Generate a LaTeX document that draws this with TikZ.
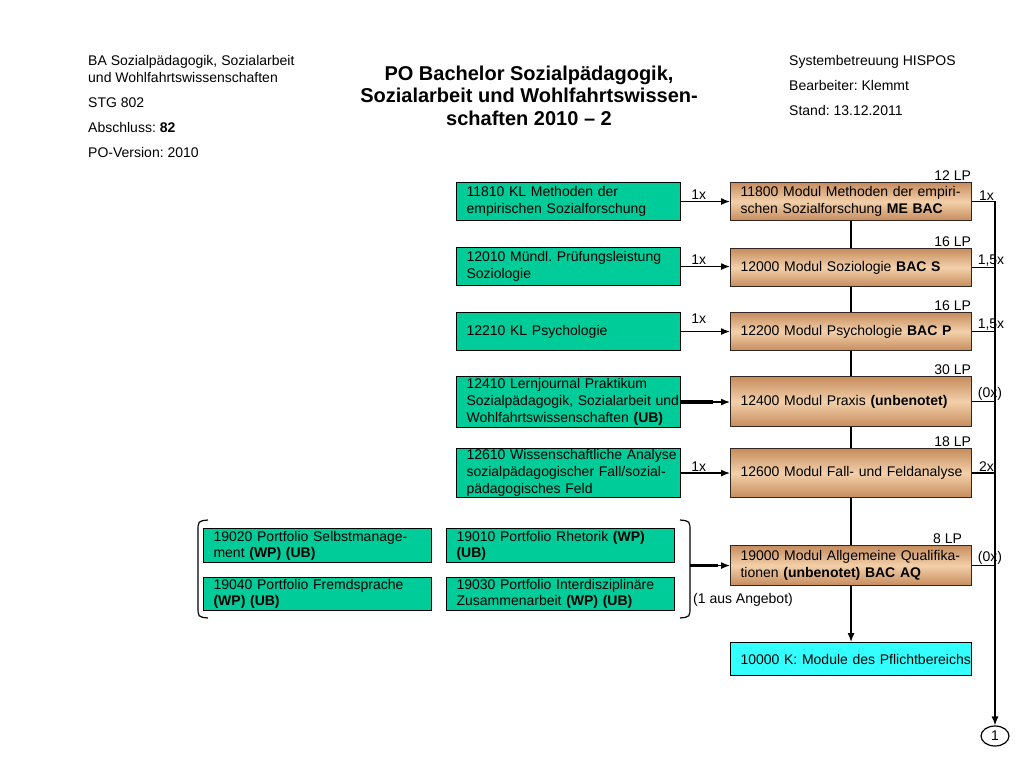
\documentclass[tikz,border=0pt]{standalone}
\usepackage{fontspec}
\setmainfont{Liberation Sans}
\usetikzlibrary{arrows.meta,shapes.geometric}
\definecolor{grn}{RGB}{0,204,153}
\definecolor{cyn}{RGB}{51,255,255}
\definecolor{tanD}{RGB}{198,140,94}
\definecolor{tanL}{RGB}{243,208,170}
\definecolor{brd}{RGB}{50,40,35}
\newcommand\bl[1]{\mbox{#1}}
\begin{document}
\begin{tikzpicture}[x=1pt,y=-1pt,
  txt/.style={font=\fontsize{14}{17}\selectfont\frenchspacing},
  lbl/.style={txt, inner sep=1pt},
  hdr/.style={txt, inner sep=0pt, anchor=base west},
  box/.style={txt, draw=black, line width=1.1pt, anchor=north west, align=left, inner xsep=10pt, inner ysep=0pt},
  gbox/.style={box, fill=grn, minimum width=224, text width=204pt},
  obox/.style={box, draw=brd, top color=tanD, bottom color=tanD, middle color=tanL, minimum width=241, text width=221pt},
  bbox/.style={box, fill=grn, font=\fontsize{14}{16}\selectfont\frenchspacing, text width=208pt},
  arr/.style={-{Latex[length=9pt,width=7pt]}, line width=1.2pt},
  ln/.style={line width=1.2pt},
  thick3/.style={line width=3.5pt}
]
\useasboundingbox (0,0) rectangle (1024,768);
\fill[white] (0,0) rectangle (1024,768);

% header
\node[hdr] (h1) at (88,65) {BA Sozialpädagogik, Sozialarbeit};
\node[hdr] (h2) at (88,82) {und Wohlfahrtswissenschaften};
\node[hdr] (h3) at (88,107) {STG 802};
\node[hdr] (h4) at (88,132) {Abschluss: \textbf{82}};
\node[hdr] (h5) at (88,157) {PO-Version: 2010};
\node[hdr] (r1) at (789,65) {Systembetreuung HISPOS};
\node[hdr] (r2) at (789,90) {Bearbeiter: Klemmt};
\node[hdr] (r3) at (789,115) {Stand: 13.12.2011};
\node[font=\fontsize{20}{22.5}\selectfont\bfseries, align=center, anchor=north, inner sep=0pt] (title) at (529,65.5)
  {PO Bachelor Sozialpädagogik,\\Sozialarbeit und Wohlfahrtswissen-\\schaften 2010 -- 2};

% green boxes
\node[gbox, minimum height=38] (g1) at (456,182) {\bl{11810 KL Methoden der}\\\bl{empirischen Sozialforschung}};
\node[gbox, minimum height=38] (g2) at (456,247) {\bl{12010 Mündl. Prüfungsleistung}\\\bl{Soziologie}};
\node[gbox, minimum height=38] (g3) at (456,312) {\bl{12210 KL Psychologie}};
\node[gbox, minimum height=51] (g4) at (456,376) {\bl{12410 Lernjournal Praktikum}\\\bl{Sozialpädagogik, Sozialarbeit und}\\\bl{Wohlfahrtswissenschaften \textbf{(UB)}}};
\node[gbox, minimum height=49] (g5) at (456,448) {\bl{12610 Wissenschaftliche Analyse}\\\bl{sozialpädagogischer Fall/sozial-}\\\bl{pädagogisches Feld}};

% orange boxes
\node[obox, minimum height=38] (o1) at (730,182) {\bl{11800 Modul Methoden der empiri-}\\\bl{schen Sozialforschung \textbf{ME BAC}}};
\node[obox, minimum height=38] (o2) at (730,248) {\bl{12000 Modul Soziologie \textbf{BAC S}}};
\node[obox, minimum height=38] (o3) at (730,312) {\bl{12200 Modul Psychologie \textbf{BAC P}}};
\node[obox, minimum height=50] (o4) at (730,376) {\bl{12400 Modul Praxis \textbf{(unbenotet)}}};
\node[obox, minimum height=49] (o5) at (730,448) {\bl{12600 Modul Fall- und Feldanalyse}};
\node[obox, minimum height=40] (o6) at (730,545) {\bl{19000 Modul Allgemeine Qualifika-}\\\bl{tionen \textbf{(unbenotet) BAC AQ}}};
\node[box, fill=cyn, minimum width=241, text width=221pt, minimum height=33] (k) at (730,642) {\bl{10000 K: Module des Pflichtbereichs}};

% bottom portfolio boxes
\node[bbox, minimum width=228, minimum height=34] (b1) at (203,528) {\bl{19020 Portfolio Selbstmanage-}\\\bl{ment \textbf{(WP) (UB)}}};
\node[bbox, minimum width=227, minimum height=34] (b2) at (446,528) {\bl{19010 Portfolio Rhetorik \textbf{(WP)}}\\\bl{\textbf{(UB)}}};
\node[bbox, minimum width=228, minimum height=33] (b3) at (203,577) {\bl{19040 Portfolio Fremdsprache}\\\bl{\textbf{(WP) (UB)}}};
\node[bbox, minimum width=227, minimum height=33] (b4) at (446,577) {\bl{19030 Portfolio Interdisziplinäre}\\\bl{Zusammenarbeit \textbf{(WP) (UB)}}};

% parentheses
\draw[ln] (208,520) .. controls (198,521) .. (198,532) -- (198,606) .. controls (198,617) .. (208,618);
\draw[ln] (680,520) .. controls (690,521) .. (690,532) -- (690,606) .. controls (690,617) .. (680,618);

% circle
\node[lbl, draw, ellipse, line width=1.2pt, minimum width=28, minimum height=20, inner sep=0pt] (c1) at (995,736) {1};

% green -> orange
\draw[arr] (g1.east) -- (g1.east -| o1.west) node[lbl, pos=0.36, above] {1x};
\draw[arr] (g2.east) -- (g2.east -| o2.west) node[lbl, pos=0.36, above] {1x};
\draw[arr] (g3.east) -- (g3.east -| o3.west) node[lbl, pos=0.36, above, yshift=6] {1x};
\draw[thick3] (g4.east) -- ++(32,0) coordinate (g4m);
\draw[arr] (g4m) -- (g4m -| o4.west);
\draw[arr] (g5.east) -- (g5.east -| o5.west) node[lbl, pos=0.36, above] {1x};
\path (o6.west) ++(-40,0) coordinate (rp);
\draw[thick3] (rp) -- ++(28,0) coordinate (rpm);
\draw[arr] (rpm) -- (o6.west);
\node[lbl, anchor=west] (ang) at (692,600) {(1 aus Angebot)};

% vertical chain
\draw[ln] (o1.south) -- (o2.north);
\draw[ln] (o2.south) -- (o3.north);
\draw[ln] (o3.south) -- (o4.north);
\draw[ln] (o4.south) -- (o5.north);
\draw[ln] (o5.south) -- (o6.north);
\draw[arr] (o6.south) -- (k.north);

% LP labels
\node[lbl, anchor=south east] at (o1.north east) {12 LP};
\node[lbl, anchor=south east] at (o2.north east) {16 LP};
\node[lbl, anchor=south east] at (o3.north east) {16 LP};
\node[lbl, anchor=south east] at (o4.north east) {30 LP};
\node[lbl, anchor=south east] at (o5.north east) {18 LP};
\node[lbl, anchor=south east, xshift=-9] at (o6.north east) {8 LP};

% right bus
\draw[arr] (o1.east) -| (c1.north);
\draw[ln] (o2.east) -- (o2.east -| c1.north);
\draw[ln] (o3.east) -- (o3.east -| c1.north);
\draw[ln] (o4.east) -- (o4.east -| c1.north);
\draw[ln] (o5.east) -- (o5.east -| c1.north);
\draw[ln] (o6.east) -- (o6.east -| c1.north);
\node[lbl, anchor=south east] at (o1.east -| c1.north) {1x};
\node[lbl, anchor=south, xshift=-4] at (o2.east -| c1.north) {1,5x};
\node[lbl, anchor=south, xshift=-4] at (o3.east -| c1.north) {1,5x};
\node[lbl, anchor=south, xshift=-5] at (o4.east -| c1.north) {(0x)};
\node[lbl, anchor=south east] at (o5.east -| c1.north) {2x};
\node[lbl, anchor=south, xshift=-5] at (o6.east -| c1.north) {(0x)};
\end{tikzpicture}
\end{document}
